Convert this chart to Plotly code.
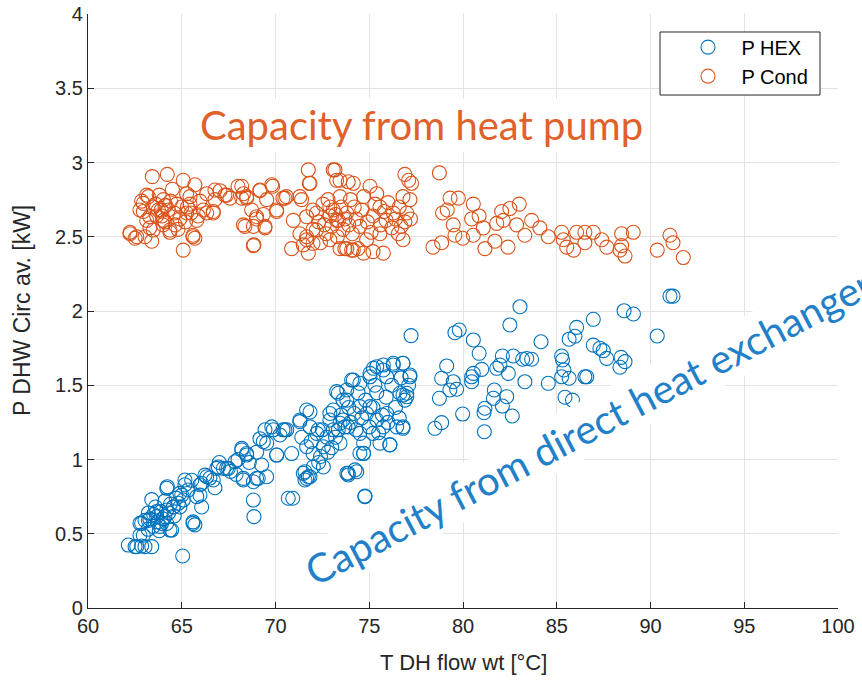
import plotly.graph_objects as go

# ---------------- data ----------------
hex_x = [62.15, 62.51, 62.86, 63.4, 65.05, 62.95, 62.86, 63.22, 63.4, 63.66, 63.84, 64.1, 64.23, 64.46,
         64.55, 64.82, 65.0, 65.17, 65.35, 65.53, 65.6, 65.7, 65.8, 66.06, 65.97, 66.24, 66.5, 66.77,
         66.86, 67.22, 67.48, 67.84, 68.2, 68.46, 68.28, 68.82, 69.08, 68.82, 68.85, 69.26, 69.17, 69.53,
         70.06, 69.8, 70.4, 69.53, 70.68,
         77.23, 69.44, 69.88, 70.24, 70.6, 70.06, 70.86, 70.92, 71.3, 71.66, 71.84, 71.4, 71.66, 72.0,
         71.57, 71.66, 71.84, 72.02, 72.55, 72.28, 72.73, 72.9, 73.08, 73.26, 73.6, 73.35, 73.44, 73.6,
         73.88, 73.88, 74.33, 74.7, 74.06, 74.5, 74.2, 74.5, 74.86, 74.77, 75.04, 75.4, 75.75, 75.93,
         76.28, 76.8, 77.17, 76.64, 77.0, 75.04, 75.4, 75.75, 75.2, 75.93, 76.46, 76.8, 76.1, 75.57,
         74.7, 74.5,
         79.57, 79.8, 80.55, 80.86, 79.13, 78.86, 79.48, 79.3, 79.66, 78.74, 78.5, 78.86, 79.98, 81.14,
         80.46, 80.46, 80.55, 81.0, 81.67, 81.62, 81.17, 81.12, 82.1, 82.33, 82.63, 81.8, 81.97, 82.1,
         82.42, 82.5, 83.04, 82.68, 83.18, 83.4, 83.66, 83.3, 84.16, 84.55, 85.26, 85.31, 85.38, 85.26,
         85.66, 86.06, 85.97, 85.66, 85.44, 85.84, 86.5, 86.6, 86.95, 86.95, 87.3, 87.48, 87.66, 88.59,
         89.09, 88.43, 88.37, 88.64, 90.36, 91.04, 91.2,
         73.8, 74.15, 75.04, 75.22, 75.75, 76.28, 76.8, 77.17, 77.0, 76.8, 76.8, 76.1, 74.5, 74.7, 73.8,
         74.24, 74.77,
         62.6, 63.04, 62.77, 62.77, 63.04, 63.22, 63.66, 63.48, 63.93, 64.2, 64.37, 64.2, 64.55, 64.9,
         65.08, 65.17, 65.6, 65.97, 66.06, 66.33, 66.68, 66.95, 67.39, 68.2, 68.46, 68.28, 68.99, 69.35,
         70.5, 71.3, 71.84, 71.48, 71.57, 71.75, 72.4, 72.2, 72.55, 73.08, 72.9, 73.44, 73.8, 73.88, 73.35,
         63.3, 63.5, 63.7, 63.9, 64.0, 64.3, 64.4, 64.6, 64.7, 63.6, 64.1, 64.9, 63.8, 64.2, 63.2,
         73.5, 73.7, 73.9, 74.0, 74.3, 74.6, 74.8, 75.0, 75.2, 75.4, 75.5, 75.7, 75.9, 76.0, 76.2, 76.4,
         76.6, 76.9, 77.1, 76.7, 75.3, 74.4, 73.2, 72.8, 72.5, 73.0, 71.9, 72.3,
         67.0, 67.6, 68.0, 68.6, 69.0, 67.9]
hex_y = [0.424, 0.413, 0.418, 0.413, 0.35, 0.49, 0.57, 0.59, 0.73, 0.65, 0.55, 0.615, 0.817, 0.525,
         0.68, 0.705, 0.76, 0.83, 0.795, 0.86, 0.58, 0.56, 0.75, 0.68, 0.83, 0.895, 0.875, 0.81,
         0.94, 0.94, 0.94, 0.985, 1.064, 1.04, 0.873, 0.85, 0.873, 0.727, 0.615, 0.963, 1.14, 1.11,
         1.03, 1.22, 1.2, 0.884, 0.739,
         1.834, 1.2, 1.2, 1.165, 1.2, 1.03, 1.04, 0.739, 1.266, 1.333, 1.22, 1.15, 1.086, 1.04,
         0.918, 0.873, 0.884, 0.95, 0.95, 1.2, 1.15, 1.266, 1.333, 1.457, 1.40, 1.2, 1.11, 1.266,
         1.22, 0.907, 0.918, 1.04, 1.535, 1.513, 1.31, 1.356, 1.31, 0.75, 1.58, 1.625, 1.603, 1.557,
         1.636, 1.648, 1.569, 1.446, 1.423, 1.356, 1.266, 1.22, 1.176, 1.31, 1.22, 1.22, 1.10, 1.11,
         1.11, 1.176,
         1.854, 1.872, 1.805, 1.715, 1.63, 1.547, 1.524, 1.468, 1.473, 1.412, 1.21, 1.248, 1.306, 1.187,
         1.557, 1.524, 1.58, 1.607, 1.468, 1.412, 1.345, 1.315, 1.36, 1.423, 1.293, 1.614, 1.636, 1.697,
         1.58, 1.906, 2.029, 1.697, 1.675, 1.68, 1.675, 1.524, 1.793, 1.513, 1.697, 1.67, 1.603, 1.557,
         1.81, 1.89, 1.83, 1.547, 1.419, 1.40, 1.557, 1.557, 1.944, 1.77, 1.749, 1.733, 1.681, 2.002,
         1.98, 1.688, 1.621, 1.659, 1.832, 2.10, 2.10,
         1.468, 1.535, 1.557, 1.614, 1.636, 1.648, 1.648, 1.557, 1.446, 1.434, 1.21, 1.098, 1.042, 1.042, 0.907,
         0.93, 0.754,
         0.413, 0.413, 0.49, 0.57, 0.59, 0.64, 0.615, 0.55, 0.57, 0.806, 0.525, 0.66, 0.68, 0.772,
         0.727, 0.862, 0.57, 0.76, 0.84, 0.884, 0.862, 0.95, 0.94, 1.075, 1.03, 0.862, 0.873, 1.12,
         1.2, 1.255, 1.32, 0.907, 0.862, 0.884, 1.02, 1.176, 1.086, 1.2, 1.31, 1.244, 1.40, 0.896, 1.446,
         0.6, 0.63, 0.58, 0.65, 0.6, 0.64, 0.7, 0.62, 0.74, 0.68, 0.72, 0.68, 0.52, 0.57, 0.53,
         1.3, 1.22, 1.35, 1.25, 1.2, 1.28, 1.4, 1.22, 1.35, 1.45, 1.18, 1.3, 1.42, 1.25, 1.5, 1.35,
         1.28, 1.4, 1.5, 1.55, 1.5, 1.45, 1.15, 1.05, 1.2, 1.08, 1.12, 0.98,
         0.98, 0.92, 1.0, 0.98, 1.05, 0.9]

cond_x = [63.43, 64.23, 65.08, 65.7, 62.86, 63.13, 63.48, 62.95, 62.24, 62.51, 63.04, 63.4, 63.13, 63.66,
          64.02, 64.28, 64.37, 64.1, 64.73, 65.0, 65.26, 65.44, 65.08, 65.6, 65.7, 65.88, 66.15, 66.33,
          66.68, 66.77, 67.04, 67.3, 67.57, 68.0, 68.29, 68.2, 68.46, 69.17, 69.85, 68.73, 68.29, 68.99,
          68.82, 69.44, 69.35, 69.53, 70.06, 68.82, 68.85, 70.4,
          71.75, 73.17, 71.8, 73.44, 73.88, 70.59, 71.39, 70.95, 70.86, 71.66, 71.75, 72.0, 72.18, 72.53,
          72.9, 73.08, 73.35, 73.6, 73.7, 74.06, 74.4, 74.7, 74.2, 74.7, 75.04, 75.4, 75.57, 75.2, 75.9,
          76.28, 76.55, 76.8, 75.57, 74.86, 75.2, 75.75, 76.9, 77.1, 77.26, 77.17, 76.8, 72.9, 72.4, 71.3,
          78.74, 79.31, 79.75, 78.91, 79.16, 78.4, 78.86, 79.48, 79.57, 79.98, 80.55, 80.46, 80.86, 80.55,
          81.08, 81.17, 81.8, 82.06, 82.15, 82.5, 83.0, 81.7, 82.4, 82.86, 83.3, 83.66, 84.1, 84.55,
          85.26, 85.35, 85.53, 85.9, 86.06, 86.5, 86.5, 86.95, 87.4, 87.67, 88.46, 89.08, 88.46, 88.37,
          88.64, 90.36, 91.04, 91.2, 91.75,
          62.95, 63.3, 62.77, 63.22, 63.75, 64.1, 64.02, 64.37, 63.48, 62.6, 62.24, 65.44, 65.26, 65.8,
          65.6, 65.97, 66.33, 66.77, 66.68, 67.39, 68.2, 68.46, 68.37, 68.99, 69.44, 69.17, 69.8, 70.06,
          70.5, 71.3, 71.66, 71.84, 71.66, 72.0, 73.08, 73.26, 72.9, 73.44, 73.8, 74.15, 73.26, 72.18,
          72.0, 71.48, 73.44, 73.8, 74.15,
          63.6, 63.9, 64.0, 64.4, 64.6, 64.9, 63.3, 63.8, 64.5, 65.2, 65.3, 65.5, 64.8, 63.95, 64.15, 64.65,
          72.3, 72.6, 72.8, 73.0, 73.2, 73.5, 73.7, 73.9, 74.0, 74.3, 74.5, 74.6, 74.9, 75.1, 75.3, 75.6,
          75.8, 76.0, 76.2, 76.4, 76.6, 76.9, 77.0, 77.2, 76.7, 74.1, 73.3, 72.7]
cond_y = [2.905, 2.92, 2.88, 2.85, 2.74, 2.78, 2.70, 2.67, 2.53, 2.49, 2.50, 2.47, 2.61, 2.64,
          2.75, 2.68, 2.53, 2.60, 2.72, 2.70, 2.79, 2.72, 2.41, 2.51, 2.49, 2.64, 2.68, 2.79,
          2.67, 2.75, 2.81, 2.78, 2.76, 2.84, 2.79, 2.76, 2.76, 2.81, 2.84, 2.68, 2.58, 2.62,
          2.57, 2.56, 2.65, 2.75, 2.68, 2.44, 2.445, 2.76,
          2.95, 2.95, 2.86, 2.88, 2.87, 2.77, 2.75, 2.61, 2.42, 2.48, 2.39, 2.55, 2.66, 2.72,
          2.64, 2.68, 2.61, 2.55, 2.42, 2.41, 2.42, 2.39, 2.70, 2.77, 2.84, 2.79, 2.70, 2.64, 2.61,
          2.66, 2.52, 2.48, 2.52, 2.48, 2.40, 2.39, 2.92, 2.88, 2.86, 2.75, 2.77, 2.48, 2.46, 2.52,
          2.93, 2.76, 2.76, 2.66, 2.68, 2.43, 2.46, 2.58, 2.51, 2.49, 2.72, 2.62, 2.64, 2.51,
          2.56, 2.42, 2.59, 2.67, 2.61, 2.69, 2.72, 2.47, 2.43, 2.58, 2.51, 2.61, 2.56, 2.50,
          2.53, 2.48, 2.43, 2.41, 2.53, 2.53, 2.46, 2.53, 2.48, 2.43, 2.52, 2.53, 2.44, 2.41,
          2.37, 2.41, 2.51, 2.46, 2.36,
          2.725, 2.635, 2.68, 2.77, 2.68, 2.71, 2.61, 2.545, 2.545, 2.50, 2.52, 2.77, 2.66, 2.61,
          2.50, 2.74, 2.66, 2.815, 2.66, 2.78, 2.84, 2.77, 2.57, 2.635, 2.57, 2.815, 2.85, 2.67,
          2.76, 2.77, 2.50, 2.86, 2.635, 2.68, 2.95, 2.88, 2.70, 2.77, 2.66, 2.86, 2.61, 2.545,
          2.455, 2.445, 2.42, 2.42, 2.41,
          2.72, 2.68, 2.58, 2.74, 2.66, 2.62, 2.56, 2.78, 2.82, 2.6, 2.7, 2.66, 2.55, 2.64, 2.71, 2.58,
          2.6, 2.58, 2.75, 2.57, 2.65, 2.70, 2.62, 2.58, 2.75, 2.62, 2.57, 2.68, 2.6, 2.53, 2.72, 2.58,
          2.67, 2.73, 2.56, 2.62, 2.70, 2.6, 2.66, 2.62, 2.57, 2.52, 2.5, 2.52]

series_names = ["P HEX", "P Cond"]
x_ticks = [60, 65, 70, 75, 80, 85, 90, 95, 100]
y_ticks = [0, 0.5, 1, 1.5, 2, 2.5, 3, 3.5, 4]
y_tick_text = ["0", "0.5", "1", "1.5", "2", "2.5", "3", "3.5", "4"]
x_title = "T DH flow wt [°C]"
y_title = "P DHW Circ av. [kW]"

# ---------------- figure ----------------
BLUE = "#0072BD"
ORANGE = "#D95319"
AXIS_FONT = "Liberation Sans Narrow, Arial Narrow, Liberation Sans, Arial, sans-serif"

fig = go.Figure()
for name, xs, ys, col in [(series_names[0], hex_x, hex_y, BLUE),
                          (series_names[1], cond_x, cond_y, ORANGE)]:
    fig.add_trace(go.Scatter(
        x=xs, y=ys, mode="markers", name=name,
        marker=dict(symbol="circle-open", size=14, color=col, line=dict(width=1.1, color=col)),
    ))

fig.update_layout(
    width=862, height=681,
    margin=dict(l=88, r=24, t=14, b=73, autoexpand=False),
    paper_bgcolor="white", plot_bgcolor="white",
    showlegend=True,
    legend=dict(x=0.782, y=0.977, xanchor="left", yanchor="top",
                bgcolor="rgba(0,0,0,0)", borderwidth=0,
                font=dict(family="Liberation Sans, Arial, sans-serif", size=20, color="#000000"),
                itemwidth=57, tracegroupgap=2),
    font=dict(family=AXIS_FONT, color="#262626"),
    shapes=[dict(type="rect", xref="paper", yref="paper", x0=0.7627, x1=0.976, y0=0.8636, y1=0.9697,
                 fillcolor="white", line=dict(color="#262626", width=1), layer="above")],
)

fig.update_xaxes(
    range=[60, 100], tickvals=x_ticks, showgrid=True, gridcolor="#E3E3E3", gridwidth=1,
    showline=True, linecolor="#262626", linewidth=1.2, ticks="inside", ticklen=6,
    tickcolor="#262626", mirror=False, zeroline=False, automargin=False,
    tickfont=dict(family=AXIS_FONT, size=20, color="#262626"),
)
fig.update_yaxes(
    range=[0, 4], tickvals=y_ticks, ticktext=y_tick_text, showgrid=True, gridcolor="#E3E3E3",
    gridwidth=1, showline=True, linecolor="#262626", linewidth=1.2, ticks="inside", ticklen=6,
    tickcolor="#262626", mirror=False, zeroline=False, automargin=False,
    tickfont=dict(family=AXIS_FONT, size=20, color="#262626"),
)

# axis titles
fig.add_annotation(
    x=0.5, y=-0.091, xref="paper", yref="paper", text=x_title, showarrow=False,
    xanchor="center", yanchor="middle",
    font=dict(family=AXIS_FONT, size=22, color="#262626"),
)
fig.add_annotation(
    x=-0.088, y=0.5, xref="paper", yref="paper", text=y_title, showarrow=False,
    textangle=-90, xanchor="center", yanchor="middle",
    font=dict(family=AXIS_FONT, size=23, color="#262626"),
)

fig.add_annotation(
    x=77.8, y=3.25, xref="x", yref="y", text="Capacity from heat pump", showarrow=False,
    font=dict(family="Lato, Open Sans, sans-serif", size=40, color="#E0622A"),
    bgcolor="white", borderpad=2,
)
fig.add_annotation(
    x=86.7, y=1.22, xref="x", yref="y", text="Capacity from direct heat exchanger", showarrow=False,
    textangle=-27.6,
    font=dict(family="Lato, Open Sans, sans-serif", size=40, color="#2280C9"),
    bgcolor="white", borderpad=2,
)

fig.write_html("out.html")
